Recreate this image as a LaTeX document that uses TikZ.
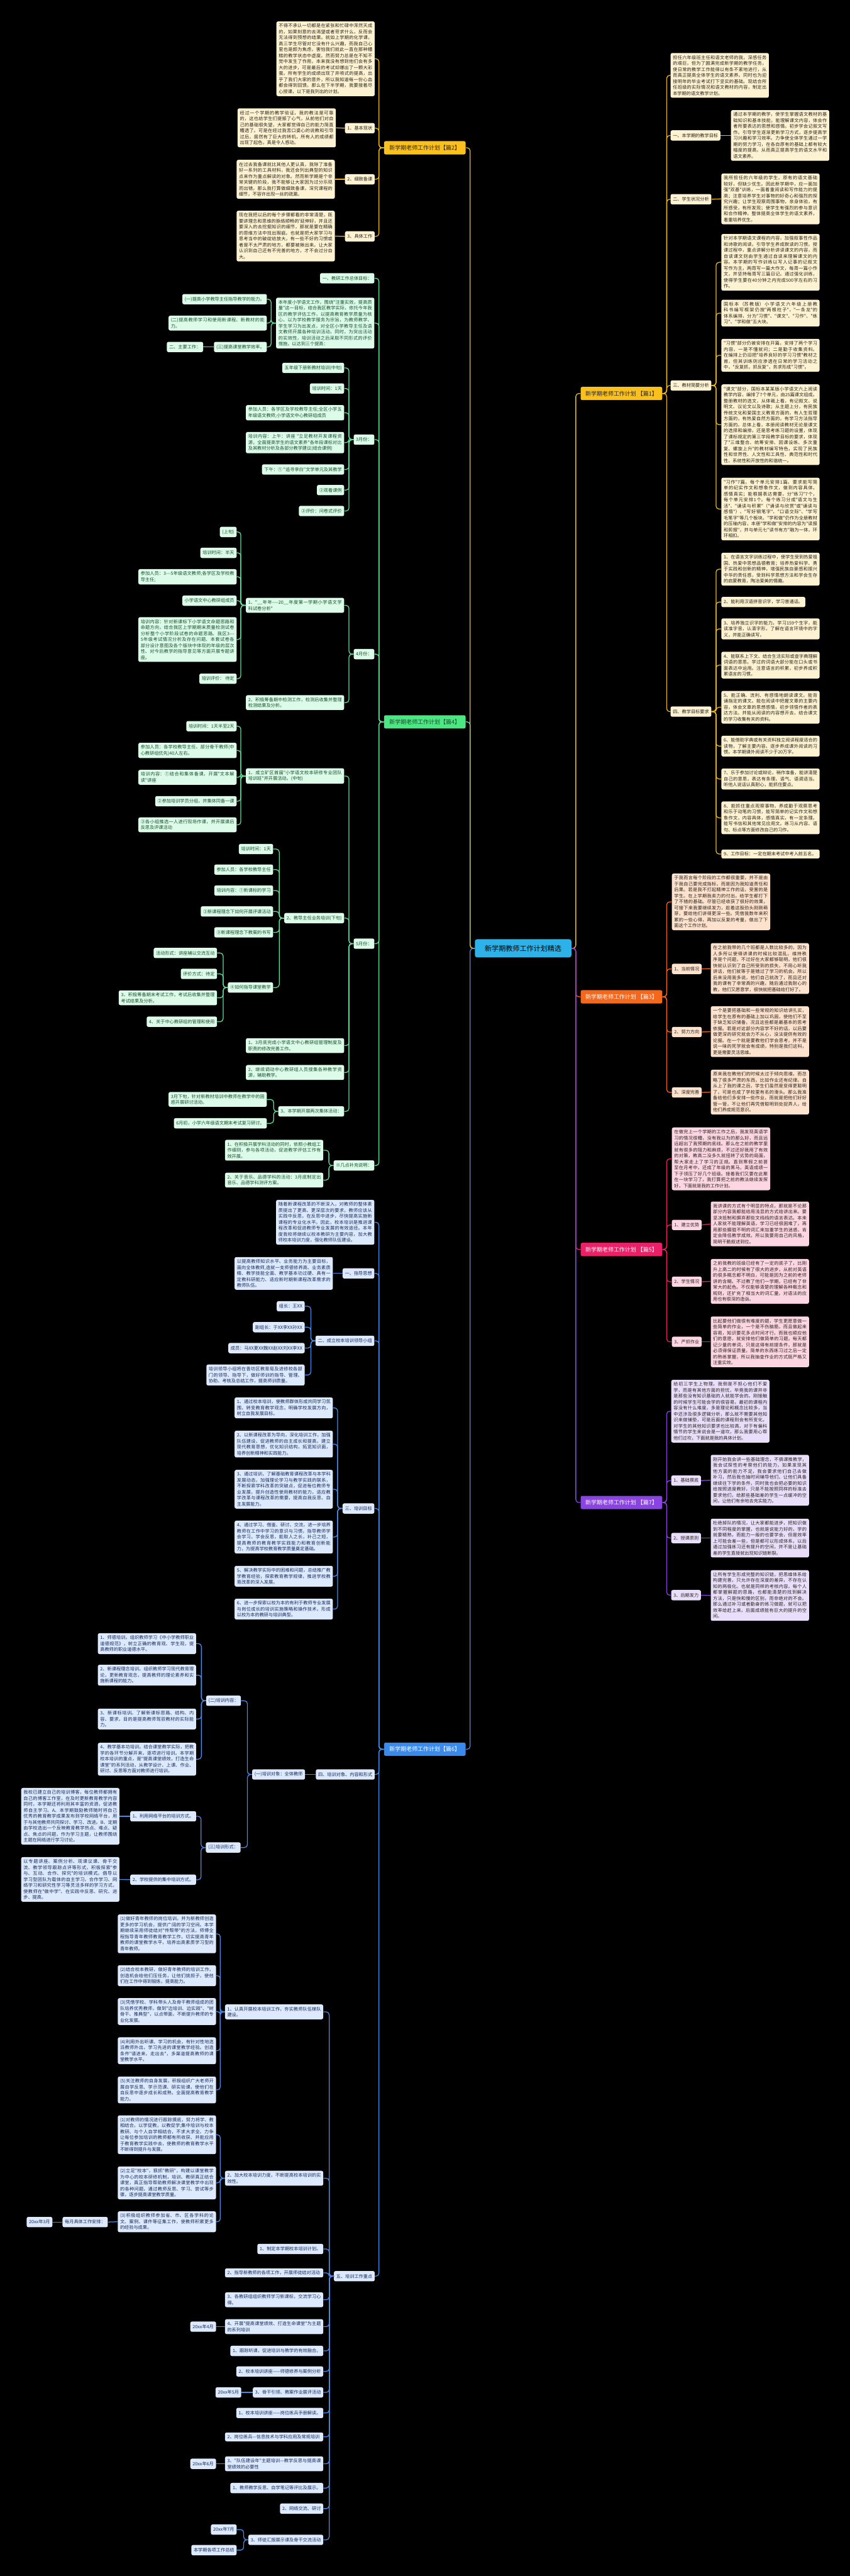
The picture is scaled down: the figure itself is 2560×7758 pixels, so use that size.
\documentclass[tikz,border=0pt]{standalone}
\usepackage{fontspec}
\usepackage{tikz}
\newfontfamily\zh[Ligatures=TeXOff]{Noto Sans CJK SC}
\XeTeXlinebreaklocale "zh"
\XeTeXlinebreakskip=0pt plus 1pt
\definecolor{gold}{RGB}{250,192,30}
\definecolor{goldline}{RGB}{238,182,32}
\definecolor{cream}{RGB}{253,243,210}
\definecolor{orng}{RGB}{243,104,28}
\definecolor{peach}{RGB}{253,226,206}
\definecolor{rose}{RGB}{236,32,102}
\definecolor{blush}{RGB}{252,214,227}
\definecolor{grape}{RGB}{138,68,226}
\definecolor{lilac}{RGB}{233,223,251}
\definecolor{leafgreen}{RGB}{76,230,130}
\definecolor{mint}{RGB}{220,251,232}
\definecolor{mintline}{RGB}{98,222,150}
\definecolor{pine}{RGB}{22,78,44}
\definecolor{sky}{RGB}{58,138,236}
\definecolor{skyline}{RGB}{70,140,232}
\definecolor{ice}{RGB}{221,233,252}
\definecolor{navy}{RGB}{22,42,92}
\definecolor{hubblue}{RGB}{44,178,232}
\definecolor{ink}{RGB}{40,34,28}
\newcommand\leaffont{\zh\fontsize{13.6}{18}\selectfont}
\newcommand\partfont{\zh\fontsize{17}{20}\selectfont}
\newcommand\hubfont{\zh\fontsize{21}{24}\selectfont}

\begin{document}
\begin{tikzpicture}[x=1pt, y=-1pt,
		hub/.style={fill=hubblue, text=black, rounded corners=7pt, minimum width=291pt,
		            minimum height=55pt, font=\hubfont},
		part/.style={rounded corners=5pt, minimum width=246pt, minimum height=40pt,
		             inner xsep=8pt, font=\partfont},
		tag/.style={rounded corners=5pt, minimum height=31pt, inner xsep=7pt, inner ysep=4pt, font=\leaffont},
		note/.style={rounded corners=5pt, text width=282pt, inner xsep=7pt, inner ysep=7pt,
		             align=justify, font=\leaffont},
		link/.style={line width=2.4pt, rounded corners=9pt},
		gtag/.style={tag, fill=cream, text=ink}, gnote/.style={note, fill=cream, text=ink},
		gline/.style={link, draw=goldline},
		otag/.style={tag, fill=peach, text=ink}, onote/.style={note, fill=peach, text=ink},
		oline/.style={link, draw=orng},
		rtag/.style={tag, fill=blush, text=ink}, rnote/.style={note, fill=blush, text=ink},
		rline/.style={link, draw=rose},
		vtag/.style={tag, fill=lilac, text=ink}, vnote/.style={note, fill=lilac, text=ink},
		vline/.style={link, draw=grape},
		mtag/.style={tag, fill=mint, text=pine}, mnote/.style={note, fill=mint, text=pine},
		mline/.style={link, draw=mintline},
		btag/.style={tag, fill=ice, text=navy}, bnote/.style={note, fill=ice, text=navy},
		bline/.style={link, draw=skyline}]
		\fill[black] (0,0) rectangle (2560,7758);
		\useasboundingbox (0,0) rectangle (2560,7758);

		% centre and the seven parts
		\node[hub] (root) at (1576,2856) {新学期教师工作计划精选};
		\node[part, fill=gold, text=ink, anchor=west] (p1) at (1749,1185) {新学期老师工作计划 【篇1】};
		\node[part, fill=gold, text=ink, anchor=east] (p2) at (1403,445) {新学期老师工作计划【篇2】};
		\node[part, fill=orng, text=white, anchor=west] (p3) at (1749,3002) {新学期老师工作计划 【篇3】};
		\node[part, fill=leafgreen, text=pine, anchor=east] (p4) at (1403,2174) {新学期老师工作计划【篇4】};
		\node[part, fill=rose, text=white, anchor=west] (p5) at (1749,3763) {新学期老师工作计划 【篇5】};
		\node[part, fill=sky, text=white, anchor=east] (p6) at (1403,5268) {新学期老师工作计划【篇6】};
		\node[part, fill=grape, text=white, anchor=west] (p7) at (1749,4525) {新学期老师工作计划 【篇7】};
		\draw[mline] (root.west) -- ++(-14,0) |- (p4.east);
		\draw[gline] (root.west) -- ++(-14,0) |- (p2.east);
		\draw[bline] (root.west) -- ++(-14,0) |- (p6.east);
		\draw[gline] (root.east) -- ++(13,0) |- (p1.west);
		\draw[oline] (root.east) -- ++(13,0) |- (p3.west);
		\draw[rline] (root.east) -- ++(13,0) |- (p5.west);
		\draw[vline] (root.east) -- ++(13,0) |- (p7.west);

		% part 1
		\node[gnote, anchor=west] (p1i) at (2020,227) {担任六年级班主任和语文老师的我，深感任务的艰巨，但为了圆满完成新学期的教学任务，使日常的教学工作能得以有条不紊地进行，从而真正提高全体学生的语文素养。同时也为迎接明年的毕业考试打下坚实的基础。现结合所任班级的实际情况和语文教材的内容，制定出本学期的语文教学计划。};
		\node[gtag, anchor=west] (p1a) at (2020,408) {一、本学期的教学目标};
		\node[gnote, anchor=west] (p1a1) at (2202,408) {通过本学期的教学，使学生掌握语文教材的基础知识和基本技能，能理解课文内容，体会作者所要表达的思想和感情。初步学会记叙文写作。引导学生逐渐更新学习方式，逐步提高学习兴趣和学习效率。力争使全体学生通过一学期的努力学习，在各自原有的基础上都有较大幅度的提高，从而真正提高学生的语文水平和语文素养。};
		\node[gtag, anchor=west] (p1b) at (2020,600) {二、学生状况分析};
		\node[gnote, anchor=west] (p1b1) at (2173,599) {我所担任的六年级的学生，原有的语文基础较好，但缺少优生。因此新学期中，应一面加强"双基"训练，一面着重阅读和写作能力的提高；注意培养学生对事物的好奇心和强烈的探究兴趣；让学生观察周围事物，亲身体验，有所感受，有所发现；使学生有强烈的参与意识和合作精神，整体提高全体学生的语文素养，着重培养优生。};
		\node[gtag, anchor=west] (p1c) at (2020,1161) {三、教材简要分析};
		\node[gnote, anchor=west] (p1c1) at (2173,790) {针对本学期语文课程的内容，加强叙事性作品和诗歌的阅读，引导学生养成默读的习惯。授课过程中，重点讲解分析讲读课文的内容，而自读课文则由学生通过自读来理解课文的内容。本学期的写作训练以写人记事的记叙文写作为主，两周写一篇大作文，每周一篇小作文，并坚持每周写三篇日记。通过强化训练，使得学生要在40分钟之内完成500字左右的习作。};
		\node[gnote, anchor=west] (p1c2) at (2173,943) {国标本（苏教版）小学语文六年级上册教科书编写框架仍按"两根柱子"，"一条龙"的体系编排，分为"习惯"、"课文"、"习作"、"练习"、"学和做"五大块。};
		\node[gnote, anchor=west] (p1c3) at (2173,1070) {"习惯"部分仍被安排在开篇，安排了两个学习内容，一是不懂就问；二是勤于收集资料。在编排上仍旧把"培养良好的学习习惯"教材之首，但其训练则应渗透在日常的学习活动之中，"反复抓，抓反复"，务求形成"习惯"。};
		\node[gnote, anchor=west] (p1c4) at (2173,1279) {"课文"部分，国标本某某版小学语文六上阅读教学内容，编排了7个单元，由25篇课文组成。整册教材的选文，从体裁上看，有记叙文、说明文、议论文以及诗歌；从主题上分，有民族传统文化和爱国主义教育方面的，有人生哲理方面的，有热爱自然方面的，有学习方法指导方面的。总体上看，本册阅读教材无论是课文的选择和编排，还是思考练习题的设置，体现了课标规定的第三学段教学目标的要求，体现了"三维整合、统筹安排、因课设练、多次重复、螺旋上升"的教材编写特色，实现了民族性和世界性、人文性和工具性、典范性和时代性、系统性和开放性的和谐统一。};
		\node[gnote, anchor=west] (p1c5) at (2173,1533) {"习作"7篇，每个单元安排1篇。要求能写简单的纪实作文和想象作文，做到内容具体，感情真实；能根据表达需要，分"练习"7个，每个单元安排1个。每个练习分成"语文与生活"、"诵读与积累"（"诵读与欣赏"或"诵读与感悟"）、"写好钢笔字"、"口语交际"、"学写毛笔字"等几个板块。"学和做"仍作为全册教材的压轴内容，本册"学和做"安排的内容为"读报和剪报"，并与单元七"读书有方"融为一体，环环相扣。};
		\node[gtag, anchor=west] (p1d) at (2020,2143) {四、教学目标要求};
		\node[gnote, anchor=west] (p1d1) at (2173,1714) {1、在语言文字训练过程中，使学生受到热爱祖国、热爱中思想品德教育；培养热爱科学、勇于实践和创新的精神，增强民族自豪感和振兴中华的责任感，受到科学思想方法和学会生存的启蒙教育，陶冶爱美的情趣。};
		\node[gtag, anchor=west] (p1d2) at (2173,1813) {2、能利用汉语拼音识字，学习普通话。};
		\node[gnote, anchor=west] (p1d3) at (2173,1894) {3、培养独立识字的能力。学习159个生字，能读准字音，认清字形，了解在语言环境中的字义，并能正确读写。};
		\node[gnote, anchor=west] (p1d4) at (2173,2003) {4、能联系上下文、结合生活实际或查字典理解词语的意思。学过的词语大部分能在口头或书面表达中运用。注意语言的积累，初步养成积累语言的习惯。};
		\node[gnote, anchor=west] (p1d5) at (2173,2130) {5、能正确、流利、有感情地朗读课文。能背诵指定的课文。能在阅读中把握文章的主要内容，体会文章的思想感情，初步领悟作者的表达方法。并能从阅读的内容想开去，结合课文的学习收集有关的资料。};
		\node[gnote, anchor=west] (p1d6) at (2173,2247) {6、能借助字典或有关资料独立阅读程度适合的读物，了解主要内容。逐步养成课外阅读的习惯。本学期课外阅读不少于20万字。};
		\node[gnote, anchor=west] (p1d7) at (2173,2346) {7、乐于参加讨论或辩论，稍作准备，能讲清楚自己的意思，表达有条理，语气、语调适当。听他人说话认真耐心，能抓住要点。};
		\node[gnote, anchor=west] (p1d8) at (2173,2463) {8、能抓住重点观察事物，养成勤于观察思考和乐于动笔的习惯，能写简单的记实作文和想象作文，内容具体，感情真实，有一定条理。能写书信和其他常见应用文。练习从内容、语句、标点等方面修改自己的习作。};
		\node[gnote, anchor=west] (p1d9) at (2173,2572) {9、工作目标：一定在期末考试中考入前五名。};
		\foreach \c in {p1i,p1a,p1b,p1c,p1d} \draw[gline] (p1.east) -- ++(13,0) |- (\c.west);
		\draw[gline] (p1a.east) -- (p1a1.west);
		\draw[gline] (p1b.east) -- (p1b1.west);
		\foreach \c in {p1c1,p1c2,p1c3,p1c4,p1c5} \draw[gline] (p1c.east) -- ++(14,0) |- (\c.west);
		\foreach \c in {p1d1,p1d2,p1d3,p1d4,p1d5,p1d6,p1d7,p1d8,p1d9} \draw[gline] (p1d.east) -- ++(14,0) |- (\c.west);

		% part 2
		\node[gnote, anchor=east] (p2i) at (1129,177) {不得不承认一切都是在紧张和忙碌中浑然天成的，如果刻意的去渴望或者苛求什么，反而会无法得到预想的结果。就如上学期的化学课，高三学生尽管对它没有什么兴趣，而我自己心里也是颇为焦虑，害怕我们就此一直在那种糟糕的教学状态中虚度。然而努力总是在不知不觉中发生了作用，本来我没有想到他们会有多大的进步，可是最后的考试却爆出了一颗大彩蛋。所有学生的成绩出现了井喷式的提高，出乎了我们大家的意外，所以我知道每一份心血都会得到回馈。那么在下半学期，我要接着尽心授课，以下是我列出的计划。};
		\node[gtag, anchor=east] (p2a) at (1129,386) {1、基本现状};
		\node[gnote, anchor=east] (p2a1) at (1012,385) {经过一个学期的教学验证，我的教法是可靠的，这也给学生们提振了心气，从前他们对自己的基础很失望，大家都觉得自己的能力简直糟透了。可是在经过我苦口婆心的说教和引导过后，居然有了巨大的转机，所有人的成绩都出现了起色，真是令人感动。};
		\node[gtag, anchor=east] (p2b) at (1129,540) {2、细致备课};
		\node[gnote, anchor=east] (p2b1) at (1009,540) {在过去我备课就比其他人更认真，我除了准备好一系列的工具材料，我还会列出典型的知识点来作为重点解读的对象。然而新学期是个非常关键的阶段，我不能够让大家因为过分乐观而出错，那么我打算做细致备课，深究课程的细节，不容许出现一丝的疏漏。};
		\node[gtag, anchor=east] (p2c) at (1129,712) {3、具体工作};
		\node[gnote, anchor=east] (p2c1) at (1009,711) {现在我把以后的每个步骤都看的非常清楚，既要讲理念和思维的脉络顺畅的'延伸好，并且还要深入的去挖掘知识的细节，那就是要在精确的思维方法中找出瑕疵。也就是把大家学习与思考当中的破绽给放大，有一些不好的习惯或者是不太严肃的地方，都要被揪出来。让大家认识到自己还有不完善的地方，才不会过分自大。};
		\foreach \c in {p2i,p2a,p2b,p2c} \draw[gline] (p2.west) -- ++(-15,0) |- (\c.east);
		\draw[gline] (p2a.west) -- (p2a1.east);
		\draw[gline] (p2b.west) -- (p2b1.east);
		\draw[gline] (p2c.west) -- (p2c1.east);

		% part 3
		\node[onote, anchor=west] (p3i) at (2024,2716) {于我而言每个阶段的工作都很重要，并不是由于我自己要完成指标，而是因为我知道责任和后果。若是我不打起精神工作的话，受害的是学生。在上学期我卖力的付出，给学生都打下了不错的基础。尽管已经收获了很好的效果，可接下来我要继续发力，趁着这股劲头刚刚萌芽，要给他们讲得更深一些。凭借我数年来积累的一些心得，再加以反复的考量，做出了下面这个工作计划。};
		\node[otag, anchor=west] (p3a) at (2024,2918) {1、当前情况};
		\node[onote, anchor=west] (p3a1) at (2141,2917) {在之前我带的几个班都是人数比较多的，因为人多所以使得讲课的时候比较混乱，维持秩序是个问题，不过好在大家都够聪明，他们很快就认识到了自己所受到的损失，不用心听我讲话，他们就等于是错过了学习的机会。所以后来没用我多说，他们自己就改了，而且还对我的课有了非常高的兴趣，随后通过我耐心的教，他们又愿意学，很快就把基础给打好了。};
		\node[otag, anchor=west] (p3b) at (2024,3108) {2、努力方向};
		\node[onote, anchor=west] (p3b1) at (2141,3107) {一个是要把基础和一些常规的知识给讲扎实，给学生在原有的基础上加以巩固，使他们不至于缺乏知识储备，况且这些都是最基本的思考依据。若是对这部分内容学不好的话，以后要做更深的研究就会力不从心，没法提供有效的论据。在一个就是要教他们学会思考，并不是说一味的死学就会有成绩，特别是我们这科，更是需要灵活思维。};
		\node[otag, anchor=west] (p3c) at (2024,3290) {3、深度完善};
		\node[onote, anchor=west] (p3c1) at (2141,3289) {原来我在教他们的时候太过于倾向思维，而忽略了很多严肃的东西，比如作业还有纪律。自从上了我的课之后，学生们虽然是变得更聪明了，可是也成了学校里有名的滑头。那么我准备给他们多安排一些作业，而就是把他们好好管一管，不让他们再凭借聪明到处捉弄人，给他们养成规范意识。};
		\foreach \c in {p3i,p3a,p3b,p3c} \draw[oline] (p3.east) -- ++(13,0) |- (\c.west);
		\draw[oline] (p3a.east) -- (p3a1.west);
		\draw[oline] (p3b.east) -- (p3b1.west);
		\draw[oline] (p3c.east) -- (p3c1.west);

		% part 4
		\node[mtag, anchor=east] (p4a) at (1128,838) {一、教研工作总体目标：};
		\node[mnote, anchor=east] (p4b) at (1128,973) {本年度小学语文工作，围绕"注重实效，提高质量"这一目标，结合我区教学实际，依托今年我区的教学评估工作，以提高教育教学质量为核心，以为学校教学服务为宗旨，为教师教学、学生学习为出发点，对全区小学教导主任及语文教师开展各种培训活动，同时，为突出活动的实效性，培训活动之后采取不同形式的评价措施，以达到三个提高：};
		\node[mtag, anchor=east] (p4b1) at (804,901) {(一)提高小学教导主任指导教学的能力。};
		\node[mnote, anchor=east] (p4b2) at (804,973) {(二)提高教师学习和使用新课程、新教材的能力。};
		\node[mtag, anchor=east] (p4b3) at (804,1045) {(三)提高课堂教学效率。};
		\node[mtag, anchor=east] (p4b4) at (612,1045) {二、主要工作：};
		\node[mtag, anchor=east] (p4c) at (1128,1324) {3月份：};
		\node[mtag, anchor=east] (p4c1) at (1037,1108) {五年级下册新教材培训(中旬)};
		\node[mtag, anchor=east] (p4c2) at (1037,1170) {培训时间：1天};
		\node[mnote, anchor=east] (p4c3) at (1037,1243) {参加人员：各学区及学校教导主任;全区小学五年级语文教师;小学语文中心教研组成员};
		\node[mnote, anchor=east] (p4c4) at (1037,1333) {培训内容：上午：讲座 "立足教材开发课程资源，全面提高学生的语文素养"各年段课标对比及其教材分析及各部分教学建议(结合课例)};
		\node[mtag, anchor=east] (p4c5) at (1037,1414) {下午：① "追寻李白"文学单元及其教学};
		\node[mtag, anchor=east] (p4c6) at (1037,1476) {②观看课例};
		\node[mtag, anchor=east] (p4c7) at (1037,1539) {③评价：问卷式评价};
		\node[mtag, anchor=east] (p4d) at (1128,1970) {4月份：};
		\node[mnote, anchor=east] (p4d1) at (1037,1823) {1、"\_\_年年----20\_\_年度第一学期小学语文学科试卷分析"};
		\node[mtag, anchor=east] (p4d1a) at (713,1602) {(上旬)};
		\node[mtag, anchor=east] (p4d1b) at (713,1665) {培训时间：半天};
		\node[mnote, anchor=east] (p4d1c) at (713,1737) {参加人员：3---5年级语文教师;各学区及学校教导主任;};
		\node[mtag, anchor=east] (p4d1d) at (713,1809) {小学语文中心教研组成员};
		\node[mnote, anchor=east] (p4d1e) at (713,1926) {培训内容：针对新课标下小学语文命题思路和命题方向，结合我区上学期期末质量检测试卷分析整个小学阶段试卷的命题思路、我区3---5年级考试情况分析及存在问题、本套试卷各部分设计意图及各个版块中体现的年级的层次性、对今后教学的指导意见等方面开展专题讲座。};
		\node[mtag, anchor=east] (p4d1f) at (713,2044) {培训评价： 待定};
		\node[mnote, anchor=east] (p4d2) at (1037,2116) {2、积极筹备期中检测工作，检测后收集并整理检测结果及分析。};
		\node[mtag, anchor=east] (p4e) at (1128,2842) {5月份：};
		\node[mnote, anchor=east] (p4e1) at (1037,2337) {1、成立矿区首届"小学语文校本研修专业团队培训班"并开展活动。(中旬)};
		\node[mtag, anchor=east] (p4e1a) at (713,2187) {培训时间：1天半至2天};
		\node[mnote, anchor=east] (p4e1b) at (713,2260) {参加人员：各学校教导主任、部分骨干教师(中心教研组优先)40人左右。};
		\node[mnote, anchor=east] (p4e1c) at (713,2341) {培训内容：①结合和集体备课，开展"文本解读"讲座};
		\node[mtag, anchor=east] (p4e1d) at (713,2413) {②参加培训学员分组，并集体同备一课};
		\node[mnote, anchor=east] (p4e1e) at (713,2484) {③各小组推选一人进行现场作课，并开展课后反思及评课活动};
		\node[mtag, anchor=east] (p4e2) at (1037,2765) {2、教导主任业务培训(下旬)};
		\node[mtag, anchor=east] (p4e2a) at (823,2557) {培训时间：1天};
		\node[mtag, anchor=east] (p4e2b) at (823,2619) {参加人员：各学校教导主任};
		\node[mtag, anchor=east] (p4e2c) at (823,2682) {培训内容：①新课标的学习};
		\node[mtag, anchor=east] (p4e2d) at (823,2745) {②新课程理念下如何开展评课活动};
		\node[mtag, anchor=east] (p4e2e) at (823,2808) {③新课程理念下教案的书写};
		\node[mtag, anchor=east] (p4e2f) at (823,2974) {④如何指导课堂教学};
		\node[mtag, anchor=east] (p4f1) at (654,2870) {活动形式：讲座辅以交流互动};
		\node[mtag, anchor=east] (p4f2) at (654,2933) {评价方式：待定};
		\node[mnote, anchor=east] (p4f3) at (654,3005) {3、积极筹备期末考试工作，考试后收集并整理考试结果及分析。};
		\node[mtag, anchor=east] (p4f4) at (654,3077) {4、关于中心教研组的管理和使用};
		\node[mnote, anchor=east] (p4e3) at (1037,3149) {1、3月底完成小学语文中心教研组管理制度及职责的修改完善工作。};
		\node[mnote, anchor=east] (p4e4) at (1037,3230) {2、继续调动中心教研组人员搜集各种教学资源，辅助教学。};
		\node[mtag, anchor=east] (p4e5) at (1037,3347) {3、本学期开展两次集体活动：};
		\node[mnote, anchor=east] (p4e5a) at (804,3311) {3月下旬，针对新教材培训中教师在教学中的困惑开展研讨活动。};
		\node[mtag, anchor=east] (p4e5b) at (804,3383) {6月初，小学六年级语文期末考试复习研讨。};
		\node[mtag, anchor=east] (p4g) at (1128,3510) {※几点补充说明：};
		\node[mnote, anchor=east] (p4g1) at (974,3464) {1、在积极开展学科活动的同时，依照小教组工作细则，参与各项活动，促进教学评估工作有效开展。};
		\node[mnote, anchor=east] (p4g2) at (974,3554) {2、关于音乐、品德学科的活动：3月底制定出音乐、品德学科测评方案。};
		\foreach \c in {p4a,p4b,p4c,p4d,p4e,p4g} \draw[mline] (p4.west) -- ++(-15,0) |- (\c.east);
		\foreach \c in {p4b1,p4b2,p4b3} \draw[mline] (p4b.west) -- ++(-15,0) |- (\c.east);
		\draw[mline] (p4b3.west) -- (p4b4.east);
		\foreach \c in {p4c1,p4c2,p4c3,p4c4,p4c5,p4c6,p4c7} \draw[mline] (p4c.west) -- ++(-14,0) |- (\c.east);
		\foreach \c in {p4d1,p4d2} \draw[mline] (p4d.west) -- ++(-14,0) |- (\c.east);
		\foreach \c in {p4d1a,p4d1b,p4d1c,p4d1d,p4d1e,p4d1f} \draw[mline] (p4d1.west) -- ++(-15,0) |- (\c.east);
		\foreach \c in {p4e1,p4e2,p4e3,p4e4,p4e5} \draw[mline] (p4e.west) -- ++(-14,0) |- (\c.east);
		\foreach \c in {p4e1a,p4e1b,p4e1c,p4e1d,p4e1e} \draw[mline] (p4e1.west) -- ++(-15,0) |- (\c.east);
		\foreach \c in {p4e2a,p4e2b,p4e2c,p4e2d,p4e2e,p4e2f} \draw[mline] (p4e2.west) -- ++(-15,0) |- (\c.east);
		\foreach \c in {p4f1,p4f2,p4f3,p4f4} \draw[mline] (p4e2f.west) -- ++(-14,0) |- (\c.east);
		\foreach \c in {p4e5a,p4e5b} \draw[mline] (p4e5.west) -- ++(-14,0) |- (\c.east);
		\foreach \c in {p4g1,p4g2} \draw[mline] (p4g.west) -- ++(-14,0) |- (\c.east);

		% part 5
		\node[rnote, anchor=west] (p5i) at (2024,3490) {在做完上一个学期的工作之后，我发现英语学习的情况很糟，没有我以为的那么好，而且远远超出了我预期的底线。那么在之前的教学里就有很多的阻力和麻烦，不过还好我用了有效的对策，教高二没多久就扭转了劣势的局面，帮大家走上了学习的正规。直到寒假之前甚至在月考中，还成了年级的黑马，英语成绩一下子领压了好几个班级。接着我们又要在此聚在一块学习了，我打算把之前的教法继续发挥好，下面就是我的工作计划。};
		\node[rtag, anchor=west] (p5a) at (2024,3689) {1、建立优势};
		\node[rnote, anchor=west] (p5a1) at (2141,3686) {我讲课的方式有个明显的特点，那就是不论那部分内容我都能给用浅显的方式给讲出来。要坚决抵制和摒弃那些文绉绉的语言表达。本来人家就不能理解英语，学习已经很困难了，再用那些朦胧不明的词汇来加重学生的迷惑，肯定会降低教学成效。所以我要用自己的风格，简明干脆叙述到位。};
		\node[rtag, anchor=west] (p5b) at (2024,3860) {2、学生情况};
		\node[rnote, anchor=west] (p5b1) at (2141,3859) {之前我教的班级已经有了一定的底子了，比刚升上高二的时候有了很大的进步，从前对英语的很多概念都不明白，可能是因为之前的老师讲的含糊。不过教了他们一学期，已经有了非常大的起色。不仅能够清楚的理解各种概念和规则，还扩充了相当大的词汇量，对语法的应用也有很深的造诣。};
		\node[rtag, anchor=west] (p5c) at (2024,4041) {3、严抓作业};
		\node[rnote, anchor=west] (p5c1) at (2141,4041) {比起要他们做很有难度的题，学生更愿意做一些简单的作业，一个是不伤脑筋，而且做起来容易，知识要花多点时间才行，而我也顺应他们的意愿，就安排他们做简单的习题，每天都记少量的单词，只是这得有前提条件，那就是必须得保证质量，简单的东西练习过之后一定的熟练掌握，所以我抽查作业的方式既严格又注重实效。};
		\foreach \c in {p5i,p5a,p5b,p5c} \draw[rline] (p5.east) -- ++(13,0) |- (\c.west);
		\draw[rline] (p5a.east) -- (p5a1.west);
		\draw[rline] (p5b.east) -- (p5b1.west);
		\draw[rline] (p5c.east) -- (p5c1.west);

		% part 6
		\node[bnote, anchor=east] (p6i) at (1128,3681) {随着新课程改革的不断深入，对教师的整体素质提出了更高、更深层次的要求，教师应该从实践中反思，在反思中进步，尽快提高实施新课程的专业化水平。因此，校本培训是推进课程改革和促进教师专业发展的有效途径。本年度我校将继续以校本教研为主要内容，加大教师校本培训力度，强化教师队伍建设。};
		\node[btag, anchor=east] (p6a) at (1128,3835) {一、指导思想};
		\node[bnote, anchor=east] (p6a1) at (1003,3835) {以提高教师知识水平、业务能力为主要目标，面向全体教师,造就一支师德修养高、业务素质精、教学技能全面、教学基本功过硬、具有一定教科研能力、适应新时期新课程改革需求的教师队伍。};
		\node[btag, anchor=east] (p6b) at (1128,4038) {二、成立校本培训领导小组};
		\node[btag, anchor=east] (p6b1) at (918,3934) {组长：王XX};
		\node[btag, anchor=east] (p6b2) at (918,3997) {副组长：于XX李XX孙XX};
		\node[btag, anchor=east] (p6b3) at (918,4060) {成员：马XX夏XX魏XX赵XX刘XX李XX};
		\node[bnote, anchor=east] (p6b4) at (918,4141) {培训领导小组将在香坊区教育局及进修校各部门的领导、指导下，做好师训的指导、管理、协助、考核及总结工作，提高师训质量。};
		\node[btag, anchor=east] (p6c) at (1128,4543) {三、培训目标};
		\node[bnote, anchor=east] (p6c1) at (1003,4240) {1、通过校本培训，使教师群体形成共同学习氛围，转变教育教学观念，明确学校发展方向，树立自我发展目标。};
		\node[bnote, anchor=east] (p6c2) at (1003,4349) {2、以新课程改革为导向，深化培训工作，加强队伍建设，促进教师的自主成长和提高，建立现代教育思想，优化知识结构，拓宽知识面，培养创新精神和实践能力。};
		\node[bnote, anchor=east] (p6c3) at (1003,4485) {3、通过培训，了解基础教育课程改革与本学科发展动态，加强理论学习与教学实践的联系，不断探索学科改革的突破点，促进每位教师专业发展，提升创造性使用教材的能力，适应教学改革与课程改革的需要，提高自我反思、自主发展能力。};
		\node[bnote, anchor=east] (p6c4) at (1003,4629) {4、通过学习、借鉴、研讨、交流，进一步培养教师在工作中学习的意识与习惯，指导教师学会学习，学会反思，能取人之长，补己之短，提高教师的教育教学实践能力和教育创新能力，为提高学校教育教学质量奠定基础。};
		\node[bnote, anchor=east] (p6c5) at (1003,4747) {5、解决教学实际中的困难和问题，总结推广教学教育经验，探索教育教学规律，推进学校教育改革的深入发展。};
		\node[bnote, anchor=east] (p6c6) at (1003,4846) {6、进一步探索以校为本的有利于教师专业发展与岗位成长的培训实施策略和操作技术，形成以校为本的教研与培训典型。};
		\node[btag, anchor=east] (p6d) at (1129,5344) {四、培训对象、内容和形式};
		\node[btag, anchor=east] (p6d1) at (919,5344) {(一)培训对象：全体教师};
		\node[btag, anchor=east] (p6d2) at (726,5122) {(二)培训内容：};
		\node[bnote, anchor=east] (p6d2a) at (591,4950) {1、师德培训。组织教师学习《中小学教师职业道德规范》，树立正确的教育观、学生观，提高教师的职业道德水平。};
		\node[bnote, anchor=east] (p6d2b) at (591,5045) {2、新课程理念培训。组织教师学习现代教育理论，更新教育观念，提高教师的理论素养和实施新课程的能力。};
		\node[bnote, anchor=east] (p6d2c) at (591,5177) {3、新课标培训。了解新课标思路、结构、内容、要求，目的是提高教师驾驭教材的实际能力。};
		\node[bnote, anchor=east] (p6d2d) at (591,5298) {4、教学基本功培训。结合课堂教学实际，把教学的各环节分解开来，逐项进行培训。本学期校本培训的重点，是"提高课堂绩效，打造生命课堂"的系列活动，从教学设计、上课、作业、研讨、反思等方面对教师进行培训。};
		\node[btag, anchor=east] (p6d3) at (725,5564) {(三)培训形式：};
		\node[btag, anchor=east] (p6d3a) at (591,5470) {1、利用网络平台的培训方式。};
		\node[bnote, anchor=east] (p6d3a1) at (360,5470) {我校已建立自己的培训博客，每位教师都拥有自己的博客工作室，在及时更新教育教学内容同时，本学期还将利用其丰富的资源，促进教师自主学习。A、本学期鼓励教师随时将自己优秀的教育教学成果发布到学校网络平台，用于与其他教师共同探讨、学习、改进。B、定期由学校选出一个反映教育教学热点、难点、疑点、焦点的问题，作为学习主题，让教师围绕主题在网络进行学习讨论。};
		\node[btag, anchor=east] (p6d3b) at (591,5661) {2、学校提供的集中培训方式。};
		\node[bnote, anchor=east] (p6d3b1) at (360,5660) {以专题讲座、案例分析、观课议课、骨干交流、教学领导跟踪点评等形式，积极探索"参与、互动、合作、探究"的培训模式。倡导以学习型团队为载体的自主学习，合作学习、网络学习和研究性学习等灵活多样的学习方式，使教师在"做中学"、在实践中反思、研究、进步、提高。};
		\node[btag, anchor=east] (p6e) at (1129,6855) {五、培训工作重点};
		\node[bnote, anchor=east] (p6e1) at (974,6059) {1、认真开展校本培训工作，夯实教师队伍梯队建设。};
		\node[bnote, anchor=east] (p6e1a) at (651,5824) {(1)做好青年教师的岗位培训。并为新教师创造更多的学习机会，提供广阔的学习空间。本学期继续采用师徒结对"传帮带"的方法，师傅全程指导青年教师教育教学工作，切实提高青年教师的课堂教学水平，培养出高素质学习型的青年教师。};
		\node[bnote, anchor=east] (p6e1b) at (651,5950) {(2)结合校本教研，做好青年教师的培训工作，创造机会给他们压任务，让他们挑担子，使他们在工作中得到锻炼，提高能力。};
		\node[bnote, anchor=east] (p6e1c) at (651,6058) {(3)凭借学校、学科带头人及骨干教师组成的团队培养优秀教师，做到"边培训、边实践"、"树骨干、推典型"，以点带面，不断提升教师的专业化发展。};
		\node[bnote, anchor=east] (p6e1d) at (651,6176) {(4)利用外出听课、学习的机会，有针对性地选派教师外出，学习先进的课堂教学经验。创造条件"请进来，走出去"，多渠道提高教师的课堂教学水平。};
		\node[bnote, anchor=east] (p6e1e) at (651,6294) {(5)关注教师的自身发展，积极组织广大老师开展自学反思、学示范课、研实验课，使他们在自反思中逐步成长和成熟，全面提高教育教学能力。};
		\node[bnote, anchor=east] (p6e2) at (974,6560) {2、加大校本培训力度，不断提高校本培训的实效性。};
		\node[bnote, anchor=east] (p6e2a) at (651,6429) {(1)对教师的情况进行跟踪摸底，努力将学、教相结合，以学促教，以教促学;集中培训与校本教研、与个人自学相结合，不求大求全、力争让每位参加培训的教师都有所收获、并能应用于教育教学实践中去，使教师的教育教学水平不断得到提升与发展。};
		\node[bnote, anchor=east] (p6e2b) at (651,6574) {(2)立足"校本"，狠抓"教研"，构建以课堂教学为中心的校本研修机制，培训、教研真正结合课堂，真正指导帮助教师解决课堂教学中出现的各种问题，通过教师反思、学习、尝试等步骤，逐步提高课堂教学质量。};
		\node[bnote, anchor=east] (p6e2c) at (651,6691) {(3)积极组织教师参加省、市、区各学科的论文、案例、课件等征集工作，使教师积累更多的经验与成果。};
		\node[btag, anchor=east] (p6e2c1) at (325,6692) {每月具体工作安排：};
		\node[btag, anchor=east] (p6e2c2) at (158,6692) {20xx年3月};
		\node[btag, anchor=east] (p6e3) at (974,6773) {1、制定本学期校本培训计划。};
		\node[bnote, anchor=east] (p6e4) at (974,6845) {2、指导新教师的各项工作，开展师徒结对活动};
		\node[bnote, anchor=east] (p6e5) at (974,6926) {3、各教研组组织教师学习新课标，交流学习心得。};
		\node[bnote, anchor=east] (p6e6) at (974,7007) {4、开展"提高课堂绩效、打造生命课堂"为主题的系列培训};
		\node[btag, anchor=east] (p6e6a) at (651,7007) {20xx年4月};
		\node[btag, anchor=east] (p6e7) at (974,7080) {1、跟踪听课，促进培训与教学的有效融合。};
		\node[btag, anchor=east] (p6e8) at (974,7142) {2、校本培训讲座——师德修养与案例分析};
		\node[btag, anchor=east] (p6e9) at (974,7205) {3、骨干引领、教案作业展评活动};
		\node[btag, anchor=east] (p6e9a) at (727,7205) {20xx年5月};
		\node[btag, anchor=east] (p6e10) at (974,7267) {1、校本培训讲座——岗位练兵手册解读。};
		\node[bnote, anchor=east] (p6e11) at (974,7339) {2、岗位练兵—信息技术与学科应用及常规培训};
		\node[bnote, anchor=east] (p6e12) at (974,7420) {3、"队伍建设年"主题培训—教学反思与提高课堂绩效的必要性};
		\node[btag, anchor=east] (p6e12a) at (651,7420) {20xx年6月};
		\node[btag, anchor=east] (p6e13) at (974,7493) {1、教师教学反思、自学笔记等评比及展示。};
		\node[btag, anchor=east] (p6e14) at (974,7555) {2、网络交流、研讨};
		\node[btag, anchor=east] (p6e15) at (974,7649) {3、师徒汇报展示课及骨干交流活动};
		\node[btag, anchor=east] (p6e15a) at (713,7618) {20xx年7月};
		\node[btag, anchor=east] (p6e15b) at (713,7680) {本学期各项工作总结};
		\foreach \c in {p6i,p6a,p6b,p6c,p6d,p6e} \draw[bline] (p6.west) -- ++(-15,0) |- (\c.east);
		\draw[bline] (p6a.west) -- (p6a1.east);
		\foreach \c in {p6b1,p6b2,p6b3,p6b4} \draw[bline] (p6b.west) -- ++(-14,0) |- (\c.east);
		\foreach \c in {p6c1,p6c2,p6c3,p6c4,p6c5,p6c6} \draw[bline] (p6c.west) -- ++(-15,0) |- (\c.east);
		\draw[bline] (p6d.west) -- (p6d1.east);
		\foreach \c in {p6d2,p6d3} \draw[bline] (p6d1.west) -- ++(-14,0) |- (\c.east);
		\foreach \c in {p6d2a,p6d2b,p6d2c,p6d2d} \draw[bline] (p6d2.west) -- ++(-14,0) |- (\c.east);
		\foreach \c in {p6d3a,p6d3b} \draw[bline] (p6d3.west) -- ++(-14,0) |- (\c.east);
		\draw[bline] (p6d3a.west) -- (p6d3a1.east);
		\draw[bline] (p6d3b.west) -- (p6d3b1.east);
		\foreach \c in {p6e1,p6e2,p6e3,p6e4,p6e5,p6e6,p6e7,p6e8,p6e9,p6e10,p6e11,p6e12,p6e13,p6e14,p6e15}
			\draw[bline] (p6e.west) -- ++(-14,0) |- (\c.east);
		\foreach \c in {p6e1a,p6e1b,p6e1c,p6e1d,p6e1e} \draw[bline] (p6e1.west) -- ++(-14,0) |- (\c.east);
		\foreach \c in {p6e2a,p6e2b,p6e2c} \draw[bline] (p6e2.west) -- ++(-14,0) |- (\c.east);
		\draw[bline] (p6e2c.west) -- (p6e2c1.east);
		\draw[bline] (p6e2c1.west) -- (p6e2c2.east);
		\draw[bline] (p6e6.west) -- (p6e6a.east);
		\draw[bline] (p6e9.west) -- (p6e9a.east);
		\draw[bline] (p6e12.west) -- (p6e12a.east);
		\foreach \c in {p6e15a,p6e15b} \draw[bline] (p6e15.west) -- ++(-14,0) |- (\c.east);

		% part 7
		\node[vnote, anchor=west] (p7i) at (2022,4250) {给初三学生上物理，我倒是不担心他们不爱学，而是有其他方面的担忧，毕竟我的课并非是那些没有知识基础的人就能学会的。刚接触的时候学生可能会学的很容易，最初的课程内容没有什么难度，多是理论和概念比较多，当中还涉及很多逻辑分析，那么就不需要其他知识来做铺垫，可是后面的课程则会有所变化，对学生的其他知识要求也比较高，对于有偏科情节的学生来说会是一道坎，那么我要用心帮他们过坎，下面就是我的具体计划。};
		\node[vtag, anchor=west] (p7a) at (2022,4459) {1、基础摸底};
		\node[vnote, anchor=west] (p7a1) at (2141,4458) {刚开始我会讲一些基础理念，不搞课推教学，我会试探性的考察他们的能力，如果发现其他方面的能力不足，我会要求他们自己去做补习，然后我也抽时间辅导他们，让他们具备继续往下学的条件，同时我也会把必要的知识给按照进度教好，只是不能按照同样的标准去要求他们，给那些基础差的学生一点缓冲的空间，让他们有余地去充实能力。};
		\node[vtag, anchor=west] (p7b) at (2022,4632) {2、授课原则};
		\node[vnote, anchor=west] (p7b1) at (2141,4632) {杜绝掉队的情况，让大家都能进步，把知识做到不同程度的掌握，也就是说能力好的，学的就要精熟，而能力一般的也要学会，但是效率上可能会差一些，但是都可以形成体系，以后通过加强练习还有提升的空间，并不是让基础差的学生直接就出现知识链断裂。};
		\node[vtag, anchor=west] (p7c) at (2022,4804) {3、后期发力};
		\node[vnote, anchor=west] (p7c1) at (2141,4805) {让所有学生形成完整的知识链，把思维体系给构建完善，只允许存在深度的差异，不存在认知的两极化。也就是同样的考核内容，每个人都掌握解题的思路，也都能清楚的找到解决方法，只是快和慢的区别，而非绝对的不会。那么通过补习或者勤奋的练习做题，就可以把效率给赶上来，后面成绩能有巨大的提升的空间。};
		\foreach \c in {p7i,p7a,p7b,p7c} \draw[vline] (p7.east) -- ++(13,0) |- (\c.west);
		\draw[vline] (p7a.east) -- (p7a1.west);
		\draw[vline] (p7b.east) -- (p7b1.west);
		\draw[vline] (p7c.east) -- (p7c1.west);
	\end{tikzpicture}
\end{document}
